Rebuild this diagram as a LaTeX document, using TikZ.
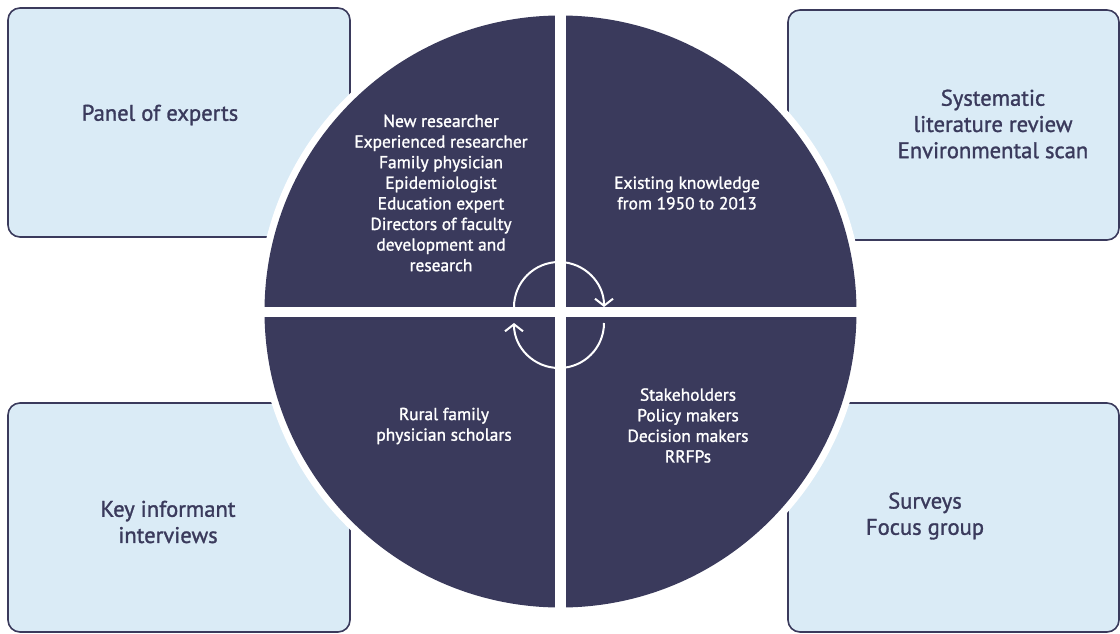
\documentclass[tikz,border=0pt]{standalone}
\usepackage{fontspec}
\setmainfont{PT Sans}
\newfontfamily\semibold[FakeBold=1.3]{PT Sans}
\usetikzlibrary{arrows.meta}
\definecolor{navy}{HTML}{3A3A5C}
\definecolor{paleblue}{HTML}{DAEBF6}

\begin{document}
\begin{tikzpicture}[
x=1pt, y=-1pt,
% Define block styles
method/.style = {rectangle, rounded corners=12pt, draw=navy, line width=1.6pt, fill=paleblue, inner sep=0pt},
methodtext/.style = {align=center, text=navy, font=\semibold\fontsize{22.6}{26.2}\selectfont},
quadtext/.style = {align=center, text=white, font=\semibold\fontsize{17.4}{20.6}\selectfont},
cyclearrow/.style = {white, line width=2pt, -{Straight Barb[length=7pt,width=18pt]}}
]
\useasboundingbox (0,0) rectangle (1120,633);

% Method boxes
\node (panelBox) [method, minimum width=342pt, minimum height=229pt] at (179,122.5) {};
\node (reviewBox) [method, minimum width=331pt, minimum height=230pt] at (953.5,125) {};
\node (interviewBox) [method, minimum width=342pt, minimum height=229pt] at (179,517.5) {};
\node (surveyBox) [method, minimum width=331pt, minimum height=229pt] at (953.5,517.5) {};

\node (panelText) [methodtext] at (160,115) {Panel of experts};
\node (reviewText) [methodtext] at (993,124) {Systematic\\literature review\\Environmental scan};
\node (interviewText) [methodtext] at (168,522) {Key informant\\interviews};
\node (surveyText) [methodtext] at (925,516) {Surveys\\Focus group};

% Central circle
\fill [white] (560.5,311.5) circle [radius=303];
\fill [navy] (560.5,311.5) circle [radius=296];
\fill [white] (555,8) rectangle (566,615);
\fill [white] (257,306.5) rectangle (864,316.5);

% Quadrant texts
\node (expertsList) [quadtext] at (441,193) {New researcher\\Experienced researcher\\Family physician\\Epidemiologist\\Education expert\\Directors of faculty\\development and\\research};
\node (knowledgeText) [quadtext] at (687,193) {Existing knowledge\\from 1950 to 2013};
\node (scholarsText) [quadtext] at (444,426) {Rural family\\physician scholars};
\node (stakeholderText) [quadtext] at (688,425.5) {Stakeholders\\Policy makers\\Decision makers\\RRFPs};

% Cycle arrows
\coordinate (cycleTop) at (514,307);
\coordinate (cycleBottom) at (604,323);
\draw [cyclearrow] (cycleTop) arc [start angle=180, end angle=360, radius=45];
\draw [cyclearrow] (cycleBottom) arc [start angle=0, end angle=180, radius=45];
\end{tikzpicture}
\end{document}
